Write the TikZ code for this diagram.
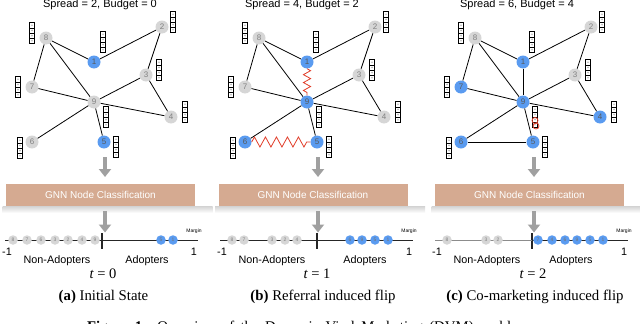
\documentclass[tikz,border=0pt]{standalone}
\usepackage{fontspec}
\setmainfont{Liberation Sans}
\newfontfamily\capfont{Liberation Serif}
\usetikzlibrary{arrows.meta,decorations.pathmorphing}
\definecolor{nblue}{RGB}{90,155,240}
\definecolor{ngray}{RGB}{214,214,214}
\definecolor{ntext}{RGB}{128,128,128}
\definecolor{gnncol}{RGB}{213,170,145}
\definecolor{agray}{RGB}{160,160,160}
\definecolor{zigred}{RGB}{225,60,40}
\tikzset{
  x=1pt, y=-1pt,
  gn/.style={circle, fill=ngray, minimum size=13pt, inner sep=0pt,
    font=\fontsize{8}{8}\selectfont, text=ntext},
  bn/.style={gn, fill=nblue, text=black!65},
  lg/.style={circle, fill=ngray, minimum size=9.5pt, inner sep=0pt,
    font=\fontsize{5}{5}\selectfont, text=ntext},
  lb/.style={lg, fill=nblue, text=black!55},
  edge/.style={line width=0.8pt, black},
  zz/.style={zigred, line width=0.8pt, decorate,
    decoration={zigzag, amplitude=#1, segment length=2.2*#1}},
  blockarrow/.style={agray, line width=3.6pt, -{Triangle[width=12pt,length=8pt]}},
  gnnbox/.style={fill=gnncol, minimum width=189pt, minimum height=22pt, inner sep=0pt,
    text=white, font=\fontsize{10}{10}\selectfont},
  numline/.style={line width=1pt, black!85},
  lbl/.style={font=\fontsize{10.8}{10.8}\selectfont, inner sep=0pt},
  ttl/.style={font=\fontsize{11}{11}\selectfont, inner sep=0pt},
  capt/.style={font=\capfont\fontsize{14.8}{14.8}\selectfont, inner sep=0pt},
  tlab/.style={font=\capfont\fontsize{14.5}{14.5}\selectfont, inner sep=0pt},
  featpic/.pic={
    \fill[white] (-2.6,-10.4) rectangle (2.6,10.4);
    \foreach \k in {-10.4,-5.2,0,5.2}{\fill[gray!55] (0,{\k+2.6}) circle (0.9);}
    \draw[line width=0.9pt] (-2.6,-10.4) rectangle (2.6,10.4);
    \draw[line width=0.55pt] (-2.6,-5.2) -- (2.6,-5.2) (-2.6,0) -- (2.6,0) (-2.6,5.2) -- (2.6,5.2);
  },
  sta1/.style=bn, sta5/.style=bn,
  stb1/.style=bn, stb5/.style=bn, stb6/.style=bn, stb9/.style=bn,
  stc1/.style=bn, stc5/.style=bn, stc6/.style=bn, stc9/.style=bn, stc7/.style=bn, stc4/.style=bn,
}
\begin{document}
\begin{tikzpicture}
\useasboundingbox (0,0) rectangle (640,324);
\clip (0,0) rectangle (640,324);

% ---------- graphs ----------
\foreach \pn/\sh in {a/0,b/213,c/429}{
  \begin{scope}[xshift=\sh pt]
    \foreach \n/\x/\y in {8/46/38, 2/162/27, 1/94/62, 3/146/75, 7/32/87, 9/94/102, 4/171/117, 6/32/142, 5/104/142}{
      \node[gn, st\pn\n/.try] (\pn\n) at (\x,\y) {\n};
    }
    \draw[edge] (\pn8) -- (\pn1) (\pn1) -- (\pn2) (\pn2) -- (\pn3) (\pn3) -- (\pn4)
      (\pn3) -- (\pn9) (\pn8) -- (\pn7) (\pn8) -- (\pn9) (\pn7) -- (\pn9)
      (\pn9) -- (\pn4) (\pn9) -- (\pn6) (\pn9) -- (\pn5);
    \foreach \x/\y in {32/33, 103/42, 173/22, 159/70, 18/87, 106/117, 185/112, 20/148, 116/147}{
      \pic at (\x,\y) {featpic};
    }
  \end{scope}
}
\draw[zz=3.6] (b1) -- (b9);
\draw[zz=5] (b6) -- (b5);
\draw[edge] (c1) -- (c9) (c6) -- (c5);
\node[draw=zigred, circle, line width=0.8pt, minimum size=6pt, inner sep=0pt] (rc1) at (535,120.5) {};
\node[draw=zigred, circle, line width=0.8pt, minimum size=6pt, inner sep=0pt] (rc2) at (536,126) {};

% ---------- titles ----------
\node[ttl] (tta) at (100,5) {Spread = 2, Budget = 0};
\node[ttl] (ttb) at (302,5) {Spread = 4, Budget = 2};
\node[ttl] (ttc) at (517,5) {Spread = 6, Budget = 4};

% ---------- GNN boxes and arrows ----------
\foreach \pn/\bx/\ax in {a/100.5/105, b/313/318, c/529.5/534}{
  \shade[top color=gray!35, bottom color=white] ({\bx-98},206) rectangle ({\bx+112},213);
  \node[gnnbox] (g\pn) at (\bx,195) {GNN Node Classification};
  \coordinate (\pn at) at (\ax,157);
  \coordinate (\pn ab) at (\ax,177);
  \coordinate (\pn bt) at (\ax,211);
  \coordinate (\pn bb) at (\ax,232.5);
  \draw[blockarrow] (\pn at) -- (\pn ab);
  \draw[blockarrow] (\pn bt) -- (\pn bb);
}

% ---------- number lines ----------
\foreach \pn/\sh in {a/0,b/215,c/430}{
  \begin{scope}[xshift=\sh pt]
    \coordinate (\pn L) at (5,240);
    \coordinate (\pn T) at (102,240);
    \coordinate (\pn R) at (198,240);
    \coordinate (\pn T1) at (102,233);
    \coordinate (\pn T2) at (102,249);
    \draw[numline] (\pn T) -- (\pn R);
    \draw[numline, line width=1.2pt] (\pn T1) -- (\pn T2);
    \node[lbl] (\pn m1) at (7,252) {-1};
    \node[lbl] (\pn p1) at (194,252) {1};
    \node[font=\fontsize{5}{5}\selectfont, inner sep=0pt] (\pn mg) at (194,231.5) {Margin};
    \node[lbl] (\pn na) at (57,261) {Non-Adopters};
  \end{scope}
}
\draw[numline] (aL) -- (aT);
\draw[numline] (bL) -- (bT);
\draw[numline, black!45] (cL) -- (cT);

\node[lbl] (aad) at (147,261) {Adopters};
\node[lbl] (bad) at (365,261) {Adopters};
\node[lbl] (cad) at (571,261) {Adopters};

% panel a line nodes
\foreach \n/\x in {8/13, 7/27, 6/41, 3/55, 2/68, 4/82, 9/95}{\node[lg] (la\n) at (\x,240) {\n};}
\foreach \n/\x in {5/161, 1/173}{\node[lb] (la\n) at (\x,240) {\n};}
% panel b
\foreach \n/\x in {8/232, 7/244, 3/272, 2/285, 4/297}{\node[lg] (lb\n) at (\x,240) {\n};}
\foreach \n/\x in {6/350, 9/362, 5/375, 1/388}{\node[lb] (lb\n) at (\x,240) {\n};}
% panel c
\foreach \n/\x in {8/447, 3/486, 2/498}{\node[lg] (lc\n) at (\x,240) {\n};}
\foreach \n/\x in {7/538, 4/552, 6/565, 9/577, 5/590, 1/603}{\node[lb] (lc\n) at (\x,240) {\n};}

% ---------- t labels and captions ----------
\node[tlab] (tla) at (103,274) {\itshape t\upshape{} = 0};
\node[tlab] (tlb) at (317,274) {\itshape t\upshape{} = 1};
\node[tlab] (tlc) at (533,274) {\itshape t\upshape{} = 2};

\node[capt] (capa) at (103.5,297) {\textbf{(a)} Initial State};
\node[capt] (capb) at (323,297) {\textbf{(b)} Referral induced flip};
\node[capt] (capc) at (535,297) {\textbf{(c)} Co-marketing induced flip};

\node[capt, anchor=base] (figcap) at (310,331) {\makebox[446pt][s]{\textbf{Figure 1:} Overview of the Dynamic Viral Marketing (DVM) problem.}};
\end{tikzpicture}
\end{document}
